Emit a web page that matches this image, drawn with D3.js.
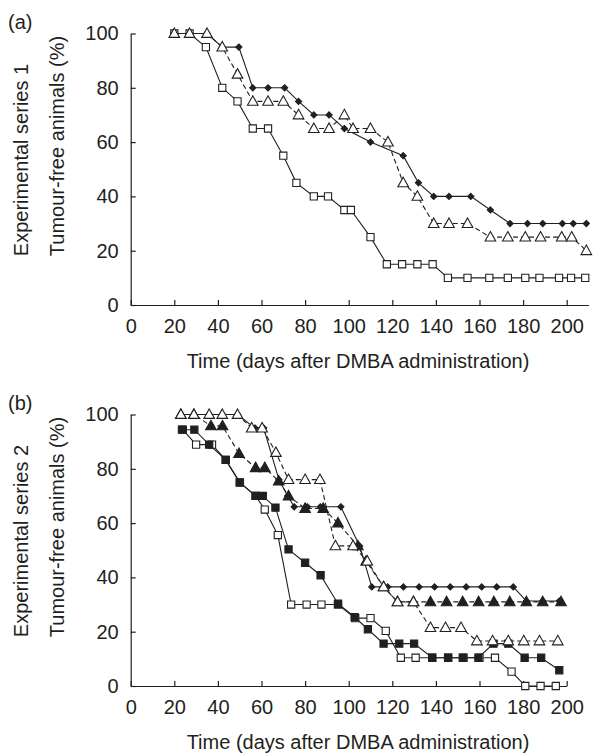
<!DOCTYPE html>
<html>
<head>
<meta charset="utf-8">
<script src="https://cdn.jsdelivr.net/npm/d3@7"></script>
<style>
  body { margin: 0; background: #fff; }
  svg text { font-family: "Liberation Sans", Arial, Helvetica, sans-serif; fill: #231f20; }
  .axis path, .axis line { stroke: #231f20; stroke-width: 1.2; }
</style>
</head>
<body>
<div class="drawingboard"></div>
<script>
// ---- data, panel (a) : experimental series 1 ----
var daysA_diamond = [20, 27, 35, 42, 49.6, 56, 63, 70.6, 77, 84, 91, 98, 110, 125, 132, 139, 146, 156, 165, 174, 182, 189, 198, 203, 209];
var valsA_diamond = [100, 100, 100, 95, 95, 80, 80, 80, 75, 70, 70, 65, 60, 55, 45, 40, 40, 40, 35, 30, 30, 30, 30, 30, 30];

var daysA_openTri = [20, 27, 35, 42, 49, 56, 63, 70, 77, 84, 91, 98, 102, 110, 118, 125, 131.5, 139, 146, 154.5, 165, 173, 181, 188, 197.7, 202.3, 209];
var valsA_openTri = [100, 100, 100, 95, 85, 75, 75, 75, 70, 65, 65, 70, 65, 65, 60, 45, 40, 30, 30, 30, 25, 25, 25, 25, 25, 25, 20];

var daysA_openSq = [20, 27, 34.5, 42, 49, 56, 63, 70, 76, 84, 90.5, 98, 101, 110, 117.5, 124.5, 131.5, 138.5, 145.5, 154.5, 164.5, 173, 181, 187.5, 196.5, 202, 208.5];
var valsA_openSq = [100, 100, 95, 80, 75, 65, 65, 55, 45, 40, 40, 35, 35, 25, 15, 15, 15, 15, 10, 10, 10, 10, 10, 10, 10, 10, 10];

// ---- data, panel (b) : experimental series 2 ----
var daysB_openTri = [23, 29, 36, 42, 49, 55.5, 60.3, 66.6, 72.4, 80, 86.8, 93.9, 102, 108.5, 116, 122.4, 129.7, 137.5, 144.4, 151.5, 158.8, 166, 173.2, 180.3, 187.5, 195.9];
var valsB_openTri = [100, 100, 100, 100, 100, 95, 95, 86, 76, 76, 76, 51.6, 51.6, 46, 36.5, 31, 31, 21.5, 21.5, 21.5, 16.6, 16.6, 16.6, 16.6, 16.6, 16.6];

var daysB_diamond = [23, 29, 36, 42, 49, 57, 61, 68, 72, 75, 81, 87, 96.4, 105, 110.6, 117.9, 125.1, 132.3, 139.4, 146.6, 153.9, 161, 167.9, 175.5, 181.5, 189, 196.6];
var valsB_diamond = [100, 100, 100, 100, 100, 95, 95, 76, 70, 66, 66, 66, 66, 51.6, 36.5, 36.5, 36.5, 36.5, 36.5, 36.5, 36.5, 36.5, 36.5, 36.5, 31.3, 31.3, 31.3];

var daysB_fillTri = [23, 29, 36.8, 42.1, 49.7, 57.3, 61.5, 67.9, 72.4, 80, 88.3, 95.1, 104.2, 108, 116, 122.4, 129.7, 137.5, 144.9, 152.3, 159.6, 166.6, 173.9, 181.5, 189, 197.4];
var valsB_fillTri = [100, 100, 95.8, 95.8, 85.6, 80.4, 80.4, 75.5, 70, 65.4, 65.4, 60, 51.6, 46, 36.5, 31, 31, 31, 31, 31, 31, 31, 31, 31, 31, 31];

var daysB_fillSq = [23.5, 29.2, 36, 43.6, 50, 57.3, 60.6, 66.4, 72.4, 80, 87.1, 95.1, 102.7, 108.8, 116, 123.2, 130, 138.3, 145.6, 152.3, 159.5, 166.4, 173.2, 180.7, 188.3, 196.6];
var valsB_fillSq = [94.4, 94.4, 88.9, 83.3, 75, 70, 70, 65.7, 50.3, 45.4, 40.8, 30.3, 25.4, 20.9, 15.6, 15.6, 15.6, 10.4, 10.4, 10.4, 10.4, 15.6, 15.6, 10.4, 10.4, 5.8];

var daysB_openSq = [23.9, 30, 37.3, 43.6, 50.1, 57.3, 61.5, 67.5, 73.6, 80.7, 87.5, 95.1, 103, 110, 117, 123.9, 130.7, 138.3, 145.6, 152.7, 160, 167.1, 174.7, 181, 188, 195];
var valsB_openSq = [94.4, 88.9, 88.9, 83.3, 74.9, 70, 65, 55.6, 30, 30, 30, 30, 25, 25, 20.3, 10.4, 10.4, 10.4, 10.4, 10.4, 10.4, 10.4, 5.3, 0, 0, 0];

var xTicks = [0, 20, 40, 60, 80, 100, 120, 140, 160, 180, 200];
var yTicks = [0, 20, 40, 60, 80, 100];

function zip(days, vals) {
    return days.map(function (d, i) { return { day: d, value: vals[i] }; });
}

// marker shapes, drawn around (0,0)
var shapes = {
    diamond: "M0,-3.1L3.1,0L0,3.1L-3.1,0Z",
    triangle: "M0,-5.6L5.3,3.9L-5.3,3.9Z",
    square: "M-3.6,-3.6H3.6V3.6H-3.6Z"
};

var width = 596, height = 753;
var svg = d3.select(".drawingboard").append("svg")
    .attr("width", width)
    .attr("height", height);

function panel(opt) {
    var g = svg.append("g");
    var x = d3.scaleLinear().domain([0, opt.xMax]).range([130.7, 130.7 + opt.xMax * 2.18]);
    var y = d3.scaleLinear().domain([0, 100]).range([opt.y0, opt.y0 - 271.5]);

    g.append("g").attr("class", "axis")
        .attr("transform", "translate(0," + opt.y0 + ")")
        .call(d3.axisBottom(x).tickValues(xTicks).tickSize(-5).tickSizeOuter(0).tickPadding(14))
        .call(function (a) { a.selectAll("text").style("font-size", "20px").attr("fill", "#231f20"); });

    g.append("g").attr("class", "axis")
        .attr("transform", "translate(130.7,0)")
        .call(d3.axisLeft(y).tickValues(yTicks).tickSize(-5).tickSizeOuter(0).tickPadding(12))
        .call(function (a) { a.selectAll("text").style("font-size", "20px").attr("fill", "#231f20"); });

    g.append("text")
        .attr("x", 358).attr("y", opt.y0 + 63)
        .attr("text-anchor", "middle")
        .style("font-size", "20px")
        .text("Time (days after DMBA administration)");

    var yMid = opt.y0 - 145;
    g.append("text")
        .attr("transform", "translate(28," + yMid + ") rotate(-90)")
        .attr("text-anchor", "middle")
        .style("font-size", "20px")
        .text(opt.series);
    g.append("text")
        .attr("transform", "translate(64," + (yMid - 14) + ") rotate(-90)")
        .attr("text-anchor", "middle")
        .style("font-size", "20px")
        .text("Tumour-free animals (%)");

    g.append("text")
        .attr("x", 8).attr("y", opt.y0 - 276)
        .style("font-size", "20px")
        .text(opt.tag);

    var line = d3.line()
        .x(function (d) { return x(d.day); })
        .y(function (d) { return y(d.value); });

    opt.lines.forEach(function (s) {
        var pts = zip(s.days, s.vals);
        g.append("path")
            .datum(pts)
            .attr("d", line)
            .attr("fill", "none")
            .attr("stroke", "#231f20")
            .attr("stroke-width", 1.1)
            .attr("stroke-dasharray", s.dashed ? "5,3" : null);

        g.selectAll(null)
            .data(pts)
            .enter().append("path")
            .attr("d", shapes[s.shape])
            .attr("transform", function (d) { return "translate(" + x(d.day) + "," + y(d.value) + ")"; })
            .attr("fill", s.filled ? "#231f20" : "#fff")
            .attr("stroke", "#231f20")
            .attr("stroke-width", 1.1);
    });
}

panel({
    tag: "(a)", series: "Experimental series 1", y0: 305, xMax: 210,
    lines: [
        { days: daysA_openSq, vals: valsA_openSq, shape: "square", filled: false, dashed: false },
        { days: daysA_diamond, vals: valsA_diamond, shape: "diamond", filled: true, dashed: false },
        { days: daysA_openTri, vals: valsA_openTri, shape: "triangle", filled: false, dashed: true }
    ]
});

panel({
    tag: "(b)", series: "Experimental series 2", y0: 686, xMax: 200,
    lines: [
        { days: daysB_openSq, vals: valsB_openSq, shape: "square", filled: false, dashed: false },
        { days: daysB_fillSq, vals: valsB_fillSq, shape: "square", filled: true, dashed: false },
        { days: daysB_diamond, vals: valsB_diamond, shape: "diamond", filled: true, dashed: false },
        { days: daysB_fillTri, vals: valsB_fillTri, shape: "triangle", filled: true, dashed: true },
        { days: daysB_openTri, vals: valsB_openTri, shape: "triangle", filled: false, dashed: true }
    ]
});
</script>
</body>
</html>
